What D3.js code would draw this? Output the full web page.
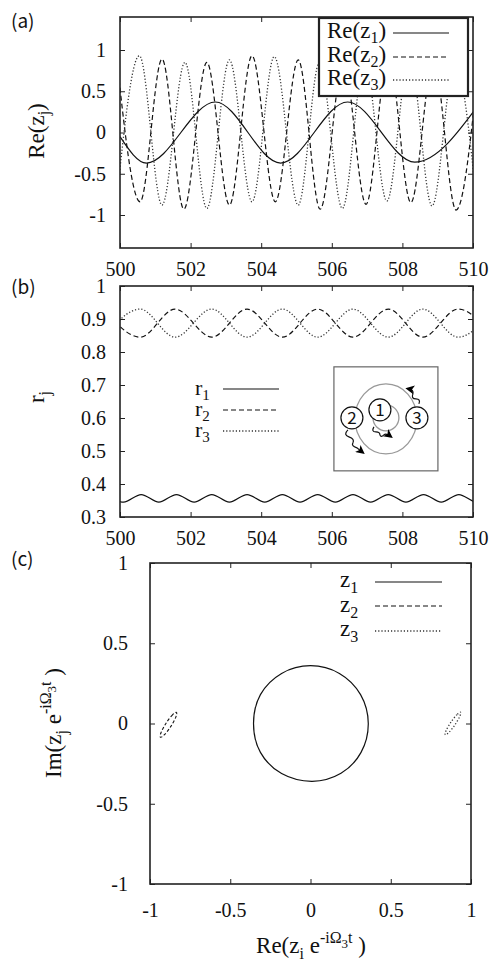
<!DOCTYPE html>
<html><head><meta charset="utf-8">
<script src="https://cdn.jsdelivr.net/npm/d3@7"></script>
<style>body{margin:0;background:#fff}svg{display:block}svg text{font-family:'Liberation Serif','Times New Roman',serif}svg text.sans{font-family:'Noto Sans CJK JP','Noto Sans',sans-serif}</style>
</head><body>
<script>
// ---------- data ----------
const tTicks = [500, 502, 504, 506, 508, 510];
const aTicks = [-1, -0.5, 0, 0.5, 1];
const bTicks = [0.3, 0.4, 0.5, 0.6, 0.7, 0.8, 0.9, 1];
const cTicks = [-1, -0.5, 0, 0.5, 1];

// panel (a): Re(z_j) key points (extrema)
const z1T = [500, 500.75, 502.7, 504.55, 506.45, 508.35, 510.2];
const z1V = [-0.05, -0.37, 0.37, -0.37, 0.37, -0.36, 0.36];
const z2T = [499.9, 500.57, 501.19, 501.81, 502.46, 503.1, 503.74, 504.4, 505.05, 505.67, 506.33, 506.97, 507.6, 508.24, 508.88, 509.52, 510.16];
const z2V = [0.93, -0.84, 0.89, -0.93, 0.85, -0.88, 0.93, -0.84, 0.88, -0.93, 0.85, -0.87, 0.93, -0.85, 0.88, -0.94, 0.85];
const z3T = [499.9, 500.55, 501.19, 501.84, 502.46, 503.1, 503.74, 504.37, 505.05, 505.65, 506.3, 506.93, 507.56, 508.2, 508.84, 509.48, 510.12];
const z3V = [-0.84, 0.93, -0.88, 0.85, -0.92, 0.88, -0.84, 0.92, -0.88, 0.85, -0.92, 0.88, -0.83, 0.92, -0.89, 0.85, -0.92];

// panel (b): r_j key points
const r1T = [499.6, 500.1, 500.6, 501.1, 501.6, 502.1, 502.6, 503.1, 503.6, 504.1, 504.6, 505.1, 505.6, 506.1, 506.6, 507.1, 507.6, 508.1, 508.6, 509.1, 509.6, 510.1, 510.6];
const r1V = [0.368, 0.345, 0.368, 0.345, 0.368, 0.345, 0.368, 0.345, 0.368, 0.345, 0.368, 0.345, 0.368, 0.345, 0.368, 0.345, 0.368, 0.345, 0.368, 0.345, 0.368, 0.345, 0.368];
const r2T = [499.55, 500.57, 501.56, 502.6, 503.6, 504.6, 505.6, 506.6, 507.6, 508.58, 509.58, 510.58];
const r2V = [0.93, 0.845, 0.93, 0.845, 0.93, 0.845, 0.93, 0.845, 0.93, 0.845, 0.93, 0.845];
const r3T = [499.55, 500.57, 501.56, 502.6, 503.6, 504.6, 505.6, 506.6, 507.6, 508.58, 509.58, 510.58];
const r3V = [0.845, 0.93, 0.845, 0.93, 0.845, 0.93, 0.845, 0.93, 0.845, 0.93, 0.845, 0.93];

// panel (c): trajectories in rotating frame
const c1X = [0.36, 0.312, 0.18, 0.0, -0.18, -0.312, -0.355, -0.312, -0.18, 0.01, 0.19, 0.315];
const c1Y = [0.0, 0.18, 0.312, 0.36, 0.312, 0.18, 0.0, -0.18, -0.312, -0.36, -0.31, -0.18];
const c2X = [-0.835, -0.860, -0.900, -0.931, -0.935, -0.910, -0.870, -0.839];
const c2Y = [0.0695, 0.054, 0.002, -0.056, -0.0855, -0.070, -0.018, 0.040];
const c3X = [0.935, 0.912, 0.875, 0.845, 0.840, 0.863, 0.900, 0.930];
const c3Y = [0.070, 0.055, 0.0084, -0.044, -0.070, -0.055, -0.0084, 0.044];

// ---------- drawing ----------
const W = 495, H = 961;
const SERIF = "'Liberation Serif','Times New Roman',serif";
const svg = d3.select("body").append("svg").attr("width", W).attr("height", H);

const styles = {
  solid: {stroke: "#111", dash: null, w: 1.2},
  dashed: {stroke: "#111", dash: "5,3", w: 1.2},
  dotted: {stroke: "#333", dash: "1.2,2", w: 1.3}
};

function rich(text, parts, size) {
  let cur = 0;
  parts.forEach(p => {
    const off = p.o || 0;
    text.append("tspan").attr("dy", off - cur).attr("font-size", p.s || size).text(p.t);
    cur = off;
  });
}

function frameAndAxes(g, x, y, xt, yt, padX, padY, clipId) {
  const [x0, x1] = x.range(), [y0, y1] = y.range();
  const fmt = d => String(d);
  const style = a => {
    a.select(".domain").remove();
    a.attr("font-family", SERIF).attr("font-size", 20);
    a.selectAll(".tick line").attr("stroke", "#222").attr("stroke-width", 1);
    a.selectAll("text").style("font-family", SERIF).style("font-size", "20px").attr("fill", "#111");
  };
  g.append("g").attr("transform", `translate(0,${y0})`).call(d3.axisBottom(x).tickValues(xt).tickSize(-5).tickPadding(padX).tickFormat(fmt)).call(style);
  g.append("g").attr("transform", `translate(0,${y1})`).call(d3.axisTop(x).tickValues(xt).tickSize(-5).tickFormat("")).call(style);
  g.append("g").attr("transform", `translate(${x0},0)`).call(d3.axisLeft(y).tickValues(yt).tickSize(-5).tickPadding(padY).tickFormat(fmt)).call(style);
  g.append("g").attr("transform", `translate(${x1},0)`).call(d3.axisRight(y).tickValues(yt).tickSize(-5).tickFormat("")).call(style);
  svg.append("clipPath").attr("id", clipId).append("rect")
    .attr("x", x0).attr("y", y1).attr("width", x1 - x0).attr("height", y0 - y1);
}
function frame(g, x, y) {
  const [x0, x1] = x.range(), [y0, y1] = y.range();
  g.append("rect").attr("x", x0).attr("y", y1).attr("width", x1 - x0).attr("height", y0 - y1)
    .attr("fill", "none").attr("stroke", "#222").attr("stroke-width", 1.6);
}
function drawLine(g, pts, st, curve, clipId) {
  const line = d3.line().x(d => d[0]).y(d => d[1]).curve(curve);
  g.append("path").attr("d", line(pts)).attr("fill", "none")
    .attr("stroke", st.stroke).attr("stroke-width", st.w)
    .attr("stroke-dasharray", st.dash).attr("clip-path", `url(#${clipId})`);
}
function legendSample(g, xa, xb, yy, st) {
  g.append("line").attr("x1", xa).attr("x2", xb).attr("y1", yy).attr("y2", yy)
    .attr("stroke", st.stroke).attr("stroke-width", st.w).attr("stroke-dasharray", st.dash);
}
function panelLabel(txt, x, y) {
  svg.append("text").attr("class", "sans").attr("x", x).attr("y", y).attr("font-size", 19).attr("fill", "#111").text(txt);
}

// ===== Panel (a) =====
const xA = d3.scaleLinear().domain([500, 510]).range([120, 473]);
const yA = d3.scaleLinear().domain([-1.4, 1.4]).range([248, 17]);
const gA = svg.append("g");
frameAndAxes(gA, xA, yA, tTicks, aTicks, 14, 14, "clipA");
[[z1T, z1V, styles.solid], [z2T, z2V, styles.dashed], [z3T, z3V, styles.dotted]].forEach(([T, V, st]) => {
  drawLine(gA, T.map((t, i) => [xA(t), yA(V[i])]), st, d3.curveMonotoneX, "clipA");
});
frame(gA, xA, yA);
// legend (a)
const legA = gA.append("g");
legA.append("rect").attr("x", 319).attr("y", 18).attr("width", 149).attr("height", 78)
  .attr("fill", "#fff").attr("stroke", "#222").attr("stroke-width", 2.2);
[["1", 38, 33, styles.solid], ["2", 62, 57, styles.dashed], ["3", 85, 80, styles.dotted]].forEach(([k, by, ly, st]) => {
  const t = legA.append("text").attr("x", 327).attr("y", by).attr("font-size", 23).attr("fill", "#111");
  rich(t, [{t: "Re(z"}, {t: k, o: 5, s: 16}, {t: ")"}], 23);
  legendSample(legA, 393, 449, ly, st);
});
// y label (a)
{
  const t = svg.append("text").attr("transform", "translate(44,131) rotate(-90)")
    .attr("text-anchor", "middle").attr("font-size", 23).attr("fill", "#111");
  rich(t, [{t: "Re(z"}, {t: "j", o: 5, s: 16}, {t: ")"}], 23);
}
panelLabel("(a)", 11, 28);

// ===== Panel (b) =====
const xB = d3.scaleLinear().domain([500, 510]).range([120, 473]);
const yB = d3.scaleLinear().domain([0.3, 1]).range([517, 286]);
const gB = svg.append("g");
frameAndAxes(gB, xB, yB, tTicks, bTicks, 14, 14, "clipB");
[[r1T, r1V, styles.solid], [r2T, r2V, styles.dashed], [r3T, r3V, styles.dotted]].forEach(([T, V, st]) => {
  drawLine(gB, T.map((t, i) => [xB(t), yB(V[i])]), st, d3.curveMonotoneX, "clipB");
});
frame(gB, xB, yB);
[["1", 395, 389, styles.solid], ["2", 416, 410, styles.dashed], ["3", 437, 431, styles.dotted]].forEach(([k, by, ly, st]) => {
  const t = gB.append("text").attr("x", 195).attr("y", by).attr("font-size", 22).attr("fill", "#111");
  rich(t, [{t: "r"}, {t: k, o: 5, s: 15}], 22);
  legendSample(gB, 223, 279, ly, st);
});
{
  const t = svg.append("text").attr("transform", "translate(44,397) rotate(-90)")
    .attr("text-anchor", "middle").attr("font-size", 23).attr("fill", "#111");
  rich(t, [{t: "r"}, {t: "j", o: 6, s: 16}], 23);
}
panelLabel("(b)", 11, 294);

// inset schematic
{
  const ix = xB(506.06), iy = yB(0.755);
  const ins = gB.append("g").attr("transform", `translate(${ix},${iy})`);
  ins.append("rect").attr("width", 104).attr("height", 104).attr("fill", "#fff").attr("stroke", "#666").attr("stroke-width", 1.2);
  ins.append("ellipse").attr("cx", 52).attr("cy", 52).attr("rx", 31).attr("ry", 35).attr("fill", "none").attr("stroke", "#999").attr("stroke-width", 1.3);
  ins.append("circle").attr("cx", 52).attr("cy", 51).attr("r", 13).attr("fill", "none").attr("stroke", "#999").attr("stroke-width", 1.3);
  const defs = svg.append("defs");
  defs.append("marker").attr("id", "ah").attr("viewBox", "0 0 10 10").attr("refX", 6).attr("refY", 5)
    .attr("markerWidth", 9).attr("markerHeight", 9).attr("markerUnits", "userSpaceOnUse").attr("orient", "auto")
    .append("path").attr("d", "M0,0 L10,5 L0,10 L2.5,5 z").attr("fill", "#000");
  const arrows = [
    "M14,63 q-5,5 1,7 q6,2 4,6 q-2,3 4,5 l5,4",
    "M40,60 q-3,5 2,5 q4,0 4,3 q1,3 4,0 q2,-2 6,1",
    "M85,37 q2,-5 -3,-5 q-5,0 -3,-5 q1,-4 -4,-5"
  ];
  arrows.forEach(d => ins.append("path").attr("d", d).attr("fill", "none").attr("stroke", "#111").attr("stroke-width", 1.2).attr("marker-end", "url(#ah)"));
  [["1", 46, 43], ["2", 18, 51], ["3", 83, 51]].forEach(([k, cx, cy]) => {
    ins.append("circle").attr("cx", cx).attr("cy", cy).attr("r", 11).attr("fill", "#fff").attr("stroke", "#111").attr("stroke-width", 1.2);
    ins.append("text").attr("class", "sans").attr("x", cx).attr("y", cy + 6).attr("text-anchor", "middle")
      .attr("font-size", 17).attr("fill", "#111").text(k);
  });
}

// ===== Panel (c) =====
const xC = d3.scaleLinear().domain([-1, 1]).range([150, 471]);
const yC = d3.scaleLinear().domain([-1, 1]).range([884, 563]);
const gC = svg.append("g");
frameAndAxes(gC, xC, yC, cTicks, cTicks, 19, 22, "clipC");
[[c1X, c1Y, styles.solid], [c2X, c2Y, styles.dashed], [c3X, c3Y, styles.dotted]].forEach(([X, Y, st]) => {
  const s = st === styles.dashed ? {stroke: st.stroke, dash: "3,2", w: 1.1} : st;
  drawLine(gC, X.map((v, i) => [xC(v), yC(Y[i])]), s, d3.curveCardinalClosed.tension(0), "clipC");
});
frame(gC, xC, yC);
[["1", 587, 582, styles.solid], ["2", 612, 606, styles.dashed], ["3", 636, 631, styles.dotted]].forEach(([k, by, ly, st]) => {
  const t = gC.append("text").attr("x", 340).attr("y", by).attr("font-size", 23).attr("fill", "#111");
  rich(t, [{t: "z"}, {t: k, o: 6, s: 16}], 23);
  legendSample(gC, 375, 442, ly, st);
});
{
  const t = svg.append("text").attr("x", 311).attr("y", 953).attr("text-anchor", "middle")
    .attr("font-size", 23).attr("fill", "#111");
  rich(t, [{t: "Re(z"}, {t: "i", o: 6, s: 16}, {t: " e", o: 0}, {t: "-iΩ", o: -10, s: 16}, {t: "3", o: -5, s: 13}, {t: "t", o: -10, s: 16}, {t: " )", o: 0}], 23);
}
{
  const t = svg.append("text").attr("transform", "translate(61,723) rotate(-90)")
    .attr("text-anchor", "middle").attr("font-size", 23).attr("fill", "#111");
  rich(t, [{t: "Im(z"}, {t: "j", o: 6, s: 16}, {t: " e", o: 0}, {t: "-iΩ", o: -10, s: 16}, {t: "3", o: -5, s: 13}, {t: "t", o: -10, s: 16}, {t: " )", o: 0}], 23);
}
panelLabel("(c)", 11, 566);
</script>
</body></html>
